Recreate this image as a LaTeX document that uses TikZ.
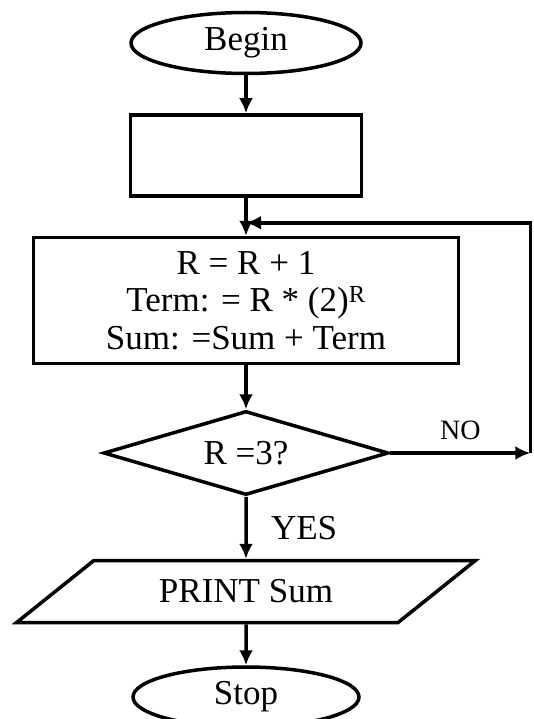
\documentclass[tikz,border=0pt]{standalone}
\usepackage{fontspec}
\setmainfont{Liberation Serif}
\usetikzlibrary{arrows.meta,shapes.geometric,positioning}

\begin{document}
\begin{tikzpicture}[>={Latex[length=15pt,width=14pt]},line width=3.5pt,
    font=\fontsize{35}{37.5}\selectfont,
    terminal/.style={draw,ellipse,inner sep=0pt,fill=white},
    process/.style={draw,rectangle,align=center,inner sep=0pt,fill=white},
    decision/.style={draw,diamond,inner sep=0pt,aspect=3.4,minimum width=285pt,minimum height=84pt},
    io/.style={draw,trapezium,trapezium left angle=28,trapezium right angle=152,
      trapezium stretches=true,inner sep=0pt,minimum width=460pt,minimum height=62pt}]
  \useasboundingbox (0pt,0pt) rectangle (533pt,-719pt);
  \node[terminal,minimum width=230pt,minimum height=61pt] (begin) at (246pt,-43pt) {Begin};
  \node[process,minimum width=231pt,minimum height=81pt,below=38pt of begin] (init) {};
  \coordinate[below=25pt of init] (join);
  \node[process,minimum width=425pt,minimum height=126pt,below=38pt of init] (calc)
    {R = R + 1\\Term: = R * (2)\textsuperscript{R}\\Sum: =Sum + Term};
  \node[decision,below=44pt of calc] (check) {R =3?};
  \coordinate[right=140pt of check] (corner);
  \node[io,below=62pt of check] (print) {PRINT Sum};
  \node[terminal,minimum width=226pt,minimum height=60pt,below=41pt of print] (stop) {Stop};
  \draw[->] (begin)--(init);
  \draw[->] (init)--(calc);
  \draw[->] (calc)--(check);
  \draw[->] (check)--node[above=8pt,font=\fontsize{28}{30}\selectfont]{NO}(corner);
  \draw[->] (corner)|-(join);
  \draw[->] (check)--node[right=20pt]{YES}(print);
  \draw[->] (print)--(stop);
\end{tikzpicture}
\end{document}
